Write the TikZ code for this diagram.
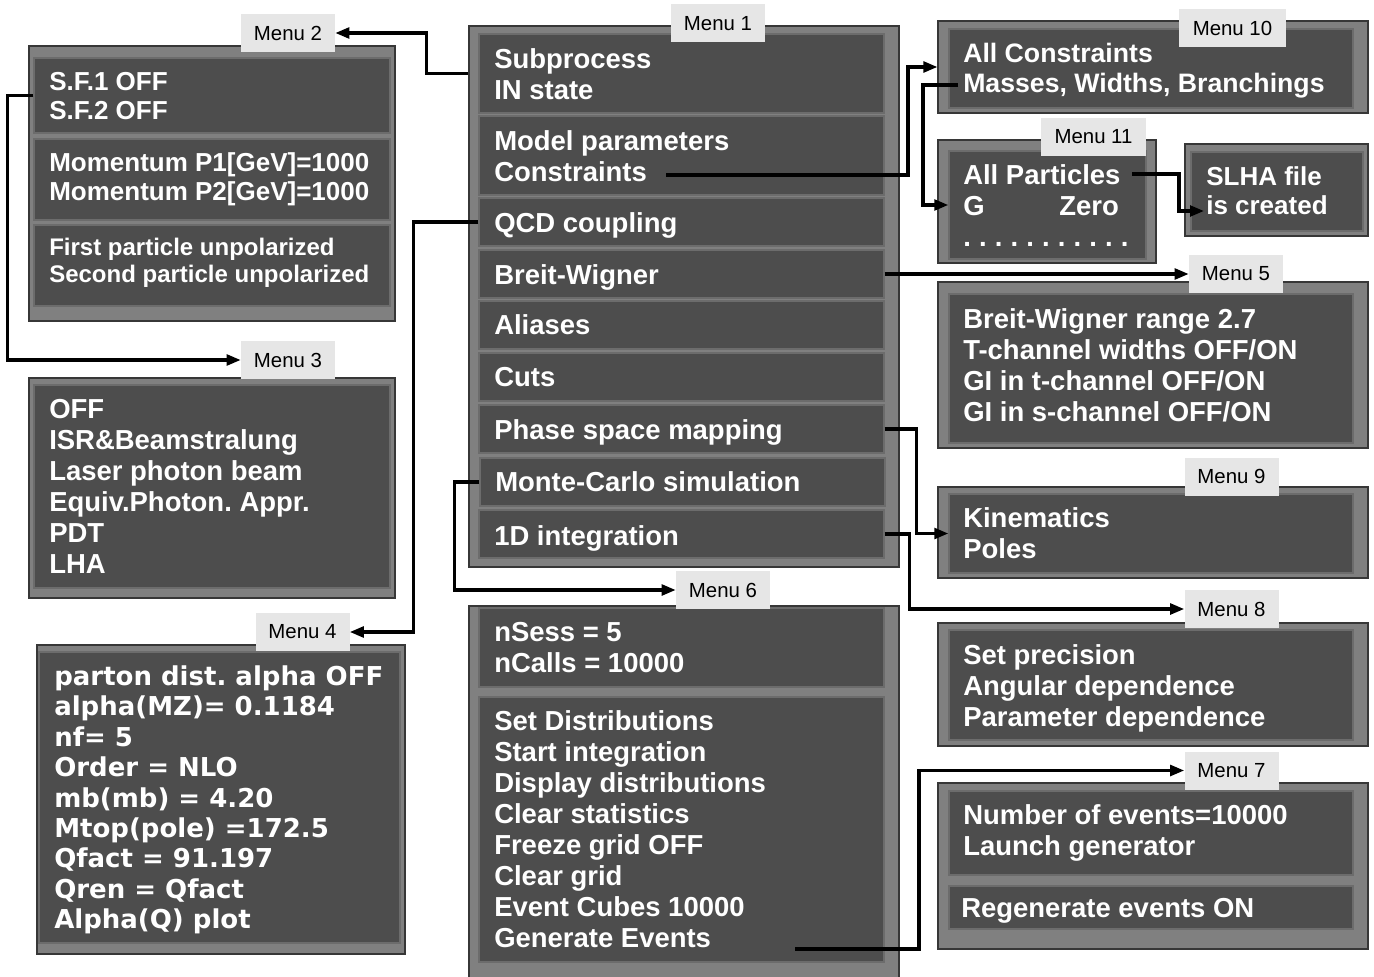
\documentclass[tikz,border=0pt]{standalone}
\usepackage{fontspec}
\setmainfont{Liberation Sans}
\newfontfamily\dejavu{DejaVu Sans}
\frenchspacing
\usetikzlibrary{fit,arrows.meta}

\begin{document}
\begin{tikzpicture}[x=0.75pt, y=-0.75pt,
  frame/.style = {draw={rgb,255:red,55;green,55;blue,55}, line width=0.8pt, fill={rgb,255:red,128;green,128;blue,128}, inner sep=0pt},
  panel/.style = {draw={rgb,255:red,108;green,108;blue,108}, line width=1pt, fill={rgb,255:red,77;green,77;blue,77}, inner sep=0pt},
  menu/.style = {fill={rgb,255:red,230;green,230;blue,230}, inner sep=0pt, minimum width=70.5pt, minimum height=28.5pt, font=\fontsize{15.3}{18}\selectfont},
  txt/.style = {text=white, anchor=west, align=left, inner sep=0pt, font=\bfseries\fontsize{20.6}{23.25}\selectfont},
  conn/.style = {line width=2.4pt, -{Triangle[length=10.5pt,width=8pt]}}]
\useasboundingbox (0,0) rectangle (1374,977);

%% boxes
\node[frame, fit={(469,26) (899,567)}] (m1) {};
\node[panel, fit={(479,34) (884,113)}] (p1a) {};
\node[panel, fit={(479,116) (884,195)}] (p1b) {};
\node[panel, fit={(479,198) (884,246)}] (p1c) {};
\node[panel, fit={(479,250) (884,298)}] (p1d) {};
\node[panel, fit={(479,301) (884,349)}] (p1e) {};
\node[panel, fit={(479,353) (884,401)}] (p1f) {};
\node[panel, fit={(479,405) (884,453)}] (p1g) {};
\node[panel, fit={(480,458) (885,506)}] (p1h) {};
\node[panel, fit={(479,510) (884,558)}] (p1i) {};

\node[frame, fit={(29,46) (395,321)}] (m2) {};
\node[panel, fit={(34,58) (390,133)}] (p2a) {};
\node[panel, fit={(34,139) (390,220)}] (p2b) {};
\node[panel, fit={(34,225) (390,306)}] (p2c) {};

\node[frame, fit={(29,378) (395,598)}] (m3) {};
\node[panel, fit={(34,385) (390,588)}] (p3a) {};

\node[frame, fit={(37,645) (405,954)}] (m4) {};
\node[panel, fit={(39,652) (400,943)}] (p4a) {};

\node[frame, fit={(469,606) (899,990)}] (m6) {};
\node[panel, fit={(479,608) (884,687)}] (p6a) {};
\node[panel, fit={(479,697) (884,962)}] (p6b) {};

\node[frame, fit={(938,21) (1368,113)}] (m10) {};
\node[panel, fit={(949,29) (1353,108)}] (p10a) {};

\node[frame, fit={(938,140) (1156,263)}] (m11) {};
\node[panel, fit={(949,151) (1146,259)}] (p11a) {};

\node[frame, fit={(1185,144) (1368,236)}] (ms) {};
\node[panel, fit={(1191,152) (1363,231)}] (psa) {};

\node[frame, fit={(938,282) (1368,448)}] (m5) {};
\node[panel, fit={(949,294) (1353,443)}] (p5a) {};

\node[frame, fit={(938,487) (1368,578)}] (m9) {};
\node[panel, fit={(949,494) (1353,573)}] (p9a) {};

\node[frame, fit={(938,623) (1368,746)}] (m8) {};
\node[panel, fit={(949,630) (1353,740)}] (p8a) {};

\node[frame, fit={(938,783) (1368,949)}] (m7) {};
\node[panel, fit={(949,791) (1353,875)}] (p7a) {};
\node[panel, fit={(949,886) (1353,929)}] (p7b) {};

%% texts
\node[txt] (t1a) at (494,74) {Subprocess\\IN state};
\node[txt] (t1b) at (494,156) {Model parameters\\Constraints};
\node[txt] (t1c) at (494,225) {QCD coupling};
\node[txt] (t1d) at (494,277) {Breit-Wigner};
\node[txt] (t1e) at (494,325) {Aliases};
\node[txt] (t1f) at (494,377) {Cuts};
\node[txt] (t1g) at (494,432) {Phase space mapping};
\node[txt] (t1h) at (495,482) {Monte-Carlo simulation};
\node[txt] (t1i) at (494,538) {1D integration};

\node[txt, font=\bfseries\fontsize{19.5}{21.75}\selectfont] (t2a) at (49,96.5) {S.F.1 OFF\\S.F.2 OFF};
\node[txt, font=\bfseries\fontsize{19.5}{21.75}\selectfont] (t2b) at (49,179) {Momentum P1[GeV]=1000\\Momentum P2[GeV]=1000};
\node[txt, font=\bfseries\fontsize{18}{20.25}\selectfont] (t2c) at (49,263) {First particle unpolarized\\Second particle unpolarized};

\node[txt] (t3a) at (49,486.5) {OFF\\ISR\&Beamstralung\\Laser photon beam\\Equiv.Photon. Appr.\\PDT\\LHA};

\node[txt, font=\dejavu\bfseries\fontsize{19.5}{22.8}\selectfont] (t4a) at (54,800) {parton dist. alpha OFF\\alpha(MZ)= 0.1184\\nf= 5\\Order = NLO\\mb(mb) = 4.20\\Mtop(pole) =172.5\\Qfact = 91.197\\Qren = Qfact\\Alpha(Q) plot};

\node[txt] (t6a) at (494,647.5) {nSess = 5\\nCalls = 10000};
\node[txt] (t6b) at (494,829.5) {Set Distributions\\Start integration\\Display distributions\\Clear statistics\\Freeze grid OFF\\Clear grid\\Event Cubes 10000\\Generate Events};

\node[txt, font=\bfseries\fontsize{20}{22.5}\selectfont] (t10a) at (963,71) {All Constraints\\Masses, Widths, Branchings};
\node[txt] (t11a) at (963,206) {All Particles\\G\hspace{56pt}Zero\\.\hspace{6.1pt}.\hspace{6.1pt}.\hspace{6.1pt}.\hspace{6.1pt}.\hspace{6.1pt}.\hspace{6.1pt}.\hspace{6.1pt}.\hspace{6.1pt}.\hspace{6.1pt}.\hspace{6.1pt}.};
\node[txt, font=\bfseries\fontsize{19.5}{22}\selectfont] (tsa) at (1206,190.5) {SLHA file\\is created};
\node[txt] (t5a) at (963,365.5) {Breit-Wigner range 2.7\\T-channel widths OFF/ON\\GI in t-channel OFF/ON\\GI in s-channel OFF/ON};
\node[txt] (t9a) at (963,533.5) {Kinematics\\Poles};
\node[txt] (t8a) at (963,688) {Set precision\\Angular dependence\\Parameter dependence};
\node[txt] (t7a) at (963,833) {Number of events=10000\\Launch generator};
\node[txt] (t7b) at (961,911) {Regenerate events ON};

%% connector ends
\coordinate (cons) at (666,175);
\coordinate (mass) at (958,85);
\coordinate (part) at (1132,174);
\coordinate (slha) at (1204,211);
\coordinate (gen) at (795,949);

%% menu labels
\node[menu] (l1) at (718,23.5) {Menu 1};
\node[menu] (l2) at (288,33) {Menu 2};
\node[menu] (l3) at (288,360) {Menu 3};
\node[menu] (l4) at (302.5,632) {Menu 4};
\node[menu] (l5) at (1236,274) {Menu 5};
\node[menu] (l6) at (723,590) {Menu 6};
\node[menu] (l7) at (1231.5,770.5) {Menu 7};
\node[menu] (l8) at (1231.5,609) {Menu 8};
\node[menu] (l9) at (1231.5,476.5) {Menu 9};
\node[menu, minimum width=80pt] (l10) at (1232.5,28) {Menu 10};
\node[menu, minimum width=79pt] (l11) at (1093.5,137) {Menu 11};

%%% connectors
\draw[conn] (m1.west |- p1a.west) -- ++(-42,0) |- (l2.east);
\draw[conn] (p2a.west) -- ++(-26,0) |- (l3.west);
\draw[conn] (p1c.west) -- ++(-65,0) |- (l4.east);
\draw[conn] (p1h.west) -- ++(-25,0) |- (l6.west);
\draw[conn] (cons) -- ++(242,0) |- (m10.west);
\draw[conn] (mass) -- ++(-35,0) |- (p11a.west);
\draw[conn] (part) -- ++(47,0) |- (slha);
\draw[conn] (p1d.east) -- (l5.west);
\draw[conn] (p1g.east) -- ++(32,0) |- (p9a.west);
\draw[conn] (p1i.east) -- ++(25,0) |- (l8.west);
\draw[conn] (gen) -- ++(124,0) |- (l7.west);

\end{tikzpicture}
\end{document}
